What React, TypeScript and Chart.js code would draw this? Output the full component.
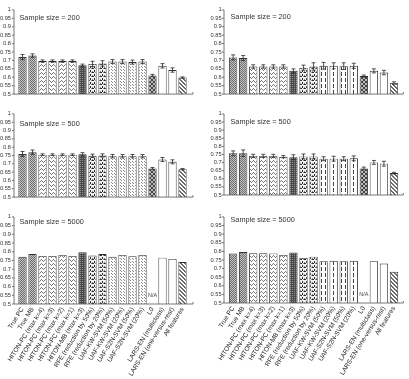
import React, { useEffect, useRef } from 'react';
import { Chart, registerables } from 'chart.js';

Chart.register(...registerables);
Chart.defaults.font.family = '"Liberation Sans", Arial, sans-serif';

// Methods compared on the x axis
const categories = [
  'True PC',
  'True MB',
  'HITON-PC (max k=4)',
  'HITON-PC (max k=3)',
  'HITON-PC (max k=2)',
  'HITON-PC (max k=1)',
  'HITON-MB (max k=3)',
  'RFE (reduction by 50%)',
  'RFE (reduction by 20%)',
  'UAF-KW-SVM (50%)',
  'UAF-KW-SVM (20%)',
  'UAF-S2N-SVM (50%)',
  'UAF-S2N-SVM (20%)',
  'L0',
  'LARS-EN (multiclass)',
  'LARS-EN (one-versus-rest)',
  'All features',
];

const sampleSizes = [200, 500, 5000];

// Left column
const leftN200 = [0.72, 0.729, 0.696, 0.696, 0.696, 0.696, 0.671, 0.679, 0.682, 0.693, 0.693, 0.69, 0.693, 0.611, 0.668, 0.643, 0.598];
const leftN200Err = [0.015, 0.01, 0.007, 0.007, 0.007, 0.007, 0.007, 0.016, 0.016, 0.012, 0.012, 0.012, 0.012, 0.006, 0.013, 0.013, 0.004];
const leftN500 = [0.759, 0.77, 0.755, 0.755, 0.755, 0.755, 0.757, 0.748, 0.75, 0.746, 0.746, 0.746, 0.746, 0.672, 0.726, 0.712, 0.668];
const leftN500Err = [0.015, 0.013, 0.005, 0.005, 0.005, 0.005, 0.01, 0.01, 0.01, 0.01, 0.01, 0.01, 0.01, 0.006, 0.012, 0.012, 0.004];
const leftN5000 = [0.771, 0.787, 0.776, 0.776, 0.782, 0.776, 0.797, 0.778, 0.787, 0.771, 0.782, 0.774, 0.782, null, 0.766, 0.759, 0.741];
const leftN5000Err = [0, 0, 0, 0, 0, 0, 0, 0, 0, 0, 0, 0, 0, 0, 0, 0, 0];

// Right column
const rightN200 = [0.718, 0.714, 0.664, 0.664, 0.664, 0.664, 0.638, 0.657, 0.664, 0.668, 0.668, 0.666, 0.668, 0.607, 0.638, 0.628, 0.566];
const rightN200Err = [0.015, 0.015, 0.01, 0.01, 0.01, 0.01, 0.012, 0.015, 0.022, 0.02, 0.018, 0.02, 0.015, 0.006, 0.012, 0.013, 0.007];
const rightN500 = [0.757, 0.758, 0.741, 0.741, 0.741, 0.736, 0.733, 0.738, 0.738, 0.724, 0.724, 0.724, 0.726, 0.664, 0.701, 0.693, 0.635];
const rightN500Err = [0.015, 0.02, 0.01, 0.01, 0.01, 0.007, 0.015, 0.015, 0.015, 0.012, 0.015, 0.012, 0.015, 0.008, 0.012, 0.015, 0.005];
const rightN5000 = [0.787, 0.796, 0.789, 0.789, 0.788, 0.779, 0.794, 0.762, 0.769, 0.743, 0.745, 0.743, 0.745, null, 0.743, 0.729, 0.681];
const rightN5000Err = [0, 0, 0, 0, 0, 0, 0, 0, 0, 0, 0, 0, 0, 0, 0, 0, 0];

const yMin = 0.5;
const yMax = 1;
const yStep = 0.05;

type ColKey = 'left' | 'right';

const COLS = {
  left: { canvasX: 0, width: 205, axisX: 14, catStart: 17.5, catEnd: 187.5, axisEnd: 193, titleX: 19.5 },
  right: { canvasX: 204, width: 205, axisX: 224, catStart: 228.1, catEnd: 399, axisEnd: 403.3, titleX: 230.5 },
};

const ROW_BOUNDS = [
  { top: 0, bottom: 104 },
  { top: 104, bottom: 207 },
  { top: 207, bottom: 379 },
];

const ROWS = {
  left: [
    { y1: 6, y05: 99.3, titleY: 17.5 },
    { y1: 109.9, y05: 204.3, titleY: 124 },
    { y1: 210, y05: 304, titleY: 221.5 },
  ],
  right: [
    { y1: 7.3, y05: 99.3, titleY: 17 },
    { y1: 106, y05: 201, titleY: 121.5 },
    { y1: 209, y05: 303, titleY: 220 },
  ],
};

function tile(w: number, h: number, bg: string, draw: (c: CanvasRenderingContext2D) => void): CanvasPattern | string {
  const cv = document.createElement('canvas');
  cv.width = w;
  cv.height = h;
  const c = cv.getContext('2d');
  if (!c) return bg;
  c.fillStyle = bg;
  c.fillRect(0, 0, w, h);
  draw(c);
  return c.createPattern(cv, 'repeat') || bg;
}

function dots(c: CanvasRenderingContext2D, color: string, pts: number[][]) {
  c.fillStyle = color;
  pts.forEach(([x, y]) => c.fillRect(x, y, 1, 1));
}

function buildFills(col: ColKey) {
  const trueFill = tile(2, 2, '#c4c4c4', (c) => dots(c, '#6e6e6e', [[0, 0], [1, 1]]));
  const hitonPc = tile(4, 4, '#ffffff', (c) => dots(c, '#7a7a7a', [[0, 1], [1, 0], [2, 1], [3, 2]]));
  const hitonMb = tile(2, 2, '#4a4a4a', (c) => dots(c, '#8e8e8e', [[0, 0]]));
  const rfe = tile(4, 4, '#f2f2f2', (c) => {
    c.fillStyle = '#2a2a2a';
    c.fillRect(0, 0, 2, 1);
    c.fillRect(2, 2, 1, 2);
    dots(c, '#888', [[3, 0], [0, 3]]);
  });
  const uaf = col === 'left'
    ? tile(3, 3, '#ffffff', (c) => dots(c, '#8a8a8a', [[1, 1], [0, 0]]))
    : tile(4, 6, '#ffffff', (c) => {
        c.fillStyle = '#444';
        c.fillRect(1, 0, 1, 4);
      });
  const l0 = tile(4, 4, '#b8b8b8', (c) =>
    dots(c, '#444', [[0, 0], [1, 1], [2, 2], [3, 3], [3, 0], [2, 1], [1, 2], [0, 3]])
  );
  const lars = '#ffffff';
  const all = tile(4, 4, '#ffffff', (c) =>
    dots(c, '#6a6a6a', [[0, 0], [1, 1], [2, 2], [3, 3], [1, 0], [2, 1], [3, 2], [0, 3]])
  );
  return [
    trueFill, trueFill,
    hitonPc, hitonPc, hitonPc, hitonPc,
    hitonMb,
    rfe, rfe,
    uaf, uaf, uaf, uaf,
    l0,
    lars, lars,
    all,
  ];
}

type PanelProps = {
  col: ColKey;
  row: number;
  values: (number | null)[];
  errors: number[];
};

function Panel({ col, row, values, errors }: PanelProps) {
  const ref = useRef<HTMLCanvasElement | null>(null);
  const c = COLS[col];
  const r = ROWS[col][row];
  const b = ROW_BOUNDS[row];
  const width = c.width;
  const height = b.bottom - b.top;
  const showLabels = row === 2;

  useEffect(() => {
    if (!ref.current) return;
    const fills = buildFills(col);
    const areaTop = r.y1 - b.top;
    const areaBottom = r.y05 - b.top;
    const yWidth = c.catStart - c.canvasX;
    const rightPad = width - (c.catEnd - c.canvasX);
    const xHeight = height - areaBottom;
    const ax = c.axisX - c.canvasX;
    const axEnd = c.axisEnd - c.canvasX;

    const decorations = {
      id: 'panelDecorations',
      afterDatasetsDraw(chart: any) {
        const ctx = chart.ctx as CanvasRenderingContext2D;
        const ys = chart.scales.y;
        const meta = chart.getDatasetMeta(0);
        ctx.save();
        // error bars
        ctx.strokeStyle = '#2a2a2a';
        ctx.lineWidth = 0.8;
        meta.data.forEach((bar: any, i: number) => {
          const v = values[i];
          const e = errors[i];
          if (v == null || !e) return;
          const x = bar.x;
          const t = ys.getPixelForValue(v + e);
          const btm = ys.getPixelForValue(v - e);
          ctx.beginPath();
          ctx.moveTo(x, t);
          ctx.lineTo(x, btm);
          ctx.moveTo(x - 2, t);
          ctx.lineTo(x + 2, t);
          ctx.moveTo(x - 2, btm);
          ctx.lineTo(x + 2, btm);
          ctx.stroke();
        });
        // N/A marker for missing values
        ctx.fillStyle = '#444';
        ctx.font = '5.5px "Liberation Sans", Arial, sans-serif';
        ctx.textAlign = 'center';
        ctx.textBaseline = 'middle';
        values.forEach((v, i) => {
          if (v != null) return;
          const x = chart.scales.x.getPixelForValue(i);
          ctx.fillText('N/A', x, ys.getPixelForValue(yMin) - 9);
        });
        ctx.restore();
      },
      afterDraw(chart: any) {
        const ctx = chart.ctx as CanvasRenderingContext2D;
        const ys = chart.scales.y;
        const base = ys.getPixelForValue(yMin);
        const top = ys.getPixelForValue(yMax);
        ctx.save();
        ctx.strokeStyle = '#555';
        ctx.lineWidth = 0.8;
        ctx.beginPath();
        ctx.moveTo(ax, top);
        ctx.lineTo(ax, base);
        ctx.lineTo(axEnd, base);
        ctx.moveTo(axEnd, base);
        ctx.lineTo(axEnd, base - 2);
        for (let v = yMin; v <= yMax + 1e-9; v += yStep) {
          const py = ys.getPixelForValue(v);
          ctx.moveTo(ax - 2, py);
          ctx.lineTo(ax, py);
        }
        ctx.stroke();
        ctx.fillStyle = '#333';
        ctx.font = '7.3px "Liberation Sans", Arial, sans-serif';
        ctx.textAlign = 'left';
        ctx.textBaseline = 'middle';
        ctx.fillText(`Sample size = ${sampleSizes[row]}`, c.titleX - c.canvasX, r.titleY - b.top);
        ctx.restore();
      },
    };

    const chart = new Chart(ref.current, {
      type: 'bar',
      data: {
        labels: categories,
        datasets: [
          {
            data: values as any,
            backgroundColor: fills as any,
            borderColor: '#333',
            borderWidth: 0.9,
            categoryPercentage: 1,
            barPercentage: 0.83,
          },
        ],
      },
      options: {
        responsive: false,
        animation: false,
        devicePixelRatio: 1,
        layout: {
          padding: {
            left: 0,
            right: rightPad,
            top: areaTop,
            bottom: showLabels ? 0 : height - areaBottom,
          },
        },
        plugins: {
          legend: { display: false },
          tooltip: { enabled: false },
        },
        scales: {
          x: {
            display: showLabels,
            offset: true,
            grid: { display: false, drawTicks: false, tickLength: 0 },
            border: { display: false },
            ticks: {
              autoSkip: false,
              maxRotation: 58,
              minRotation: 58,
              padding: 2,
              color: '#222',
              font: { size: 6.5 },
            },
            afterFit: (s: any) => {
              s.height = xHeight;
            },
          },
          y: {
            min: yMin,
            max: yMax,
            grid: { display: false, drawTicks: false, tickLength: 0 },
            border: { display: false },
            ticks: {
              stepSize: yStep,
              autoSkip: false,
              padding: 6.5,
              color: '#333',
              font: { size: 5.7 },
              callback: (v: any) => String(Math.round(Number(v) * 100) / 100),
            },
            afterFit: (s: any) => {
              s.width = yWidth;
            },
          },
        },
      },
      plugins: [decorations],
    });
    return () => chart.destroy();
  }, [col, row, values, errors]);

  return (
    <canvas
      ref={ref}
      width={width}
      height={height}
      style={{ position: 'absolute', left: c.canvasX, top: b.top, width, height }}
    />
  );
}

export default function App() {
  return (
    <div
      style={{
        position: 'absolute',
        left: 0,
        top: 0,
        width: 409,
        height: 379,
        overflow: 'hidden',
        background: '#ffffff',
      }}
    >
      <Panel col="left" row={0} values={leftN200} errors={leftN200Err} />
      <Panel col="left" row={1} values={leftN500} errors={leftN500Err} />
      <Panel col="left" row={2} values={leftN5000} errors={leftN5000Err} />
      <Panel col="right" row={0} values={rightN200} errors={rightN200Err} />
      <Panel col="right" row={1} values={rightN500} errors={rightN500Err} />
      <Panel col="right" row={2} values={rightN5000} errors={rightN5000Err} />
    </div>
  );
}
